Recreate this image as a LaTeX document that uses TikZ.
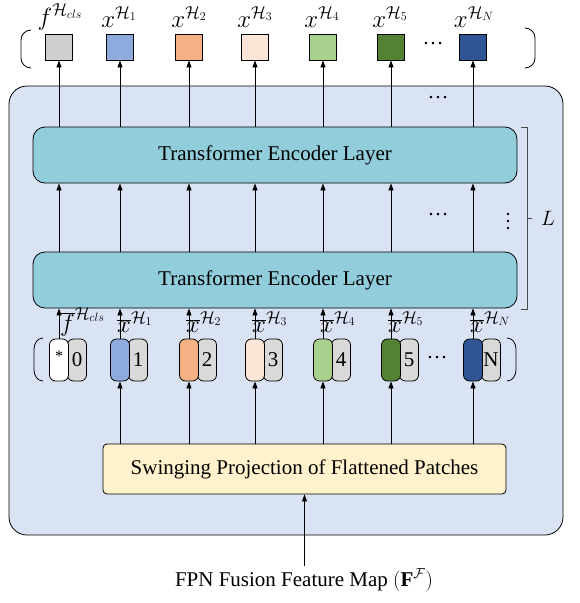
\documentclass[tikz,border=0pt]{standalone}
\usepackage{fontspec}
\setmainfont{Liberation Serif}
\usetikzlibrary{arrows.meta,calc}
\definecolor{bigfill}{HTML}{DAE3F3}
\definecolor{telfill}{HTML}{92CDDC}
\definecolor{swfill}{HTML}{FFF2CC}
\definecolor{cgray}{HTML}{D0CECE}
\definecolor{pgray}{HTML}{D9D9D9}
\definecolor{cA}{HTML}{8FAADC}
\definecolor{cB}{HTML}{F4B183}
\definecolor{cC}{HTML}{FBE5D6}
\definecolor{cD}{HTML}{A9D18E}
\definecolor{cE}{HTML}{548235}
\definecolor{cF}{HTML}{2F5597}
\tikzset{
  big/.style={font=\fontsize{21}{25}\selectfont},
  lab/.style={font=\fontsize{25}{28}\selectfont, inner sep=0pt},
  arr/.style={draw=black, line width=0.8pt, -{Triangle[length=7pt,width=5pt]}},
  sq/.style={draw=black, line width=0.8pt, minimum width=27pt, minimum height=26pt, inner sep=0pt},
  layer/.style={draw=black, line width=0.8pt, fill=telfill, rounded corners=12pt, minimum width=484pt, minimum height=56pt, inner sep=0pt, big},
  pillc/.style={draw=black, line width=0.8pt, rounded corners=6pt, minimum width=19pt, minimum height=42pt, inner sep=0pt},
  pillg/.style={draw=black, line width=0.8pt, fill=pgray, rounded corners=6pt, minimum width=19pt, minimum height=42pt, inner sep=0pt, big},
  paren/.style={draw=black, line width=0.8pt},
  dots/.style={big, inner sep=0pt},
}
\begin{document}
\begin{tikzpicture}[x=1pt,y=-1pt]
\useasboundingbox (0,0) rectangle (579,603);
% big container
\draw[line width=0.8pt, fill=bigfill, rounded corners=18pt] (9,86) rectangle (563,535);
% layers
\node[layer] (tel1) at (275,155) {Transformer Encoder Layer};
\node[layer] (tel2) at (275,280) {Transformer Encoder Layer};
% swinging
\node[draw=black, line width=0.8pt, fill=swfill, rounded corners=4pt, minimum width=403pt, minimum height=50pt, inner sep=0pt, big] (sw) at (304.5,469) {Swinging Projection of Flattened Patches};
\node[big, inner sep=0pt] (fpn) at (304,580) {FPN Fusion Feature Map $\bigl(\mathbf{F}^{\mathcal{F}}\bigr)$};
\draw[arr] (fpn.north -| sw.south) ++(0,-3) coordinate (fpnin) (fpnin) -- (sw.south);
% top outputs
\node[sq, fill=cgray] (s0) at (59,47) {};
\node[sq, fill=cA] (s1) at (120,47) {};
\node[sq, fill=cB] (s2) at (189,47) {};
\node[sq, fill=cC] (s3) at (255,47) {};
\node[sq, fill=cD] (s4) at (323,47) {};
\node[sq, fill=cE] (s5) at (391,47) {};
\node[sq, fill=cF] (s6) at (473,47) {};
\node[lab] (l0) at (60,17) {$f^{\mathcal{H}_{cls}}$};
\node[lab] (l1) at (119,17) {$x^{\mathcal{H}_1}$};
\node[lab] (l2) at (189,17) {$x^{\mathcal{H}_2}$};
\node[lab] (l3) at (255,17) {$x^{\mathcal{H}_3}$};
\node[lab] (l4) at (322,17) {$x^{\mathcal{H}_4}$};
\node[lab] (l5) at (390,17) {$x^{\mathcal{H}_5}$};
\node[lab] (l6) at (474,17) {$x^{\mathcal{H}_N}$};
\node[dots] (d0) at (433,44) {…};
\draw[paren] (31,30) to[out=180,in=90] (21,40) -- (21,58) to[out=-90,in=180] (31,68);
\draw[paren] (525,28) to[out=0,in=90] (535,38) -- (535,58) to[out=-90,in=0] (525,68);
% tokens
\foreach \i/\x/\c in {0/59/white,1/120/cA,2/189/cB,3/255/cC,4/323/cD,5/391/cE,6/473/cF}{
  \node[pillg] (g\i) at (\x+18,360) {};
  \node[pillc, fill=\c] (c\i) at (\x,360) {};
}
\node[big, inner sep=0pt] at (g0) {0};
\node[big, inner sep=0pt] at (g1) {1};
\node[big, inner sep=0pt] at (g2) {2};
\node[big, inner sep=0pt] at (g3) {3};
\node[big, inner sep=0pt] at (g4) {4};
\node[big, inner sep=0pt] at (g5) {5};
\node[big, inner sep=0pt] at (g6) {N};
\node[font=\fontsize{16}{18}\selectfont, inner sep=0pt] at ($(c0)+(0,-4)$) {*};
\node[dots] (d3) at (437,358) {…};
\draw[paren] (43,338) to[out=180,in=90] (34,349) -- (34,370) to[out=-90,in=180] (43,381);
\draw[paren] (507,338) to[out=0,in=90] (516,349) -- (516,370) to[out=-90,in=0] (507,381);
% token labels
\node[lab, anchor=west] (tl0) at (60,322) {$\overline{f}^{\mathcal{H}_{cls}}$};
\node[lab, anchor=west] (tl1) at (117,322) {$\overline{x}^{\mathcal{H}_1}$};
\node[lab, anchor=west] (tl2) at (186,322) {$\overline{x}^{\mathcal{H}_2}$};
\node[lab, anchor=west] (tl3) at (252,322) {$\overline{x}^{\mathcal{H}_3}$};
\node[lab, anchor=west] (tl4) at (320,322) {$\overline{x}^{\mathcal{H}_4}$};
\node[lab, anchor=west] (tl5) at (388,322) {$\overline{x}^{\mathcal{H}_5}$};
\node[lab, anchor=west] (tl6) at (470,322) {$\overline{x}^{\mathcal{H}_N}$};
% arrows
\foreach \i in {0,...,6}{
  \draw[arr] (tel1.north -| s\i.south) -- (s\i.south);
  \draw[arr] (tel2.north -| s\i.south) -- (tel1.south -| s\i.south);
  \draw[arr] (c\i.north) -- (tel2.south -| c\i.north);
}
\foreach \i in {1,...,6}{
  \draw[arr] (sw.north -| c\i.south) -- (c\i.south);
}
\node[dots] (d1) at (438,98) {…};
\node[dots] (d2) at (438,215) {…};
% vertical dots
\foreach \yy in {214,221,228}{ \fill[black] (508,\yy) circle (1.4pt); }
% L bracket
\draw[line width=0.8pt, draw=black!70] (521,127) -- (527,127) -- (527,309) -- (521,309);
\draw[line width=0.8pt, draw=black!70] (527,218) -- (532,218);
\node[big, inner sep=0pt] (L) at (548,218) {$L$};
\end{tikzpicture}
\end{document}
